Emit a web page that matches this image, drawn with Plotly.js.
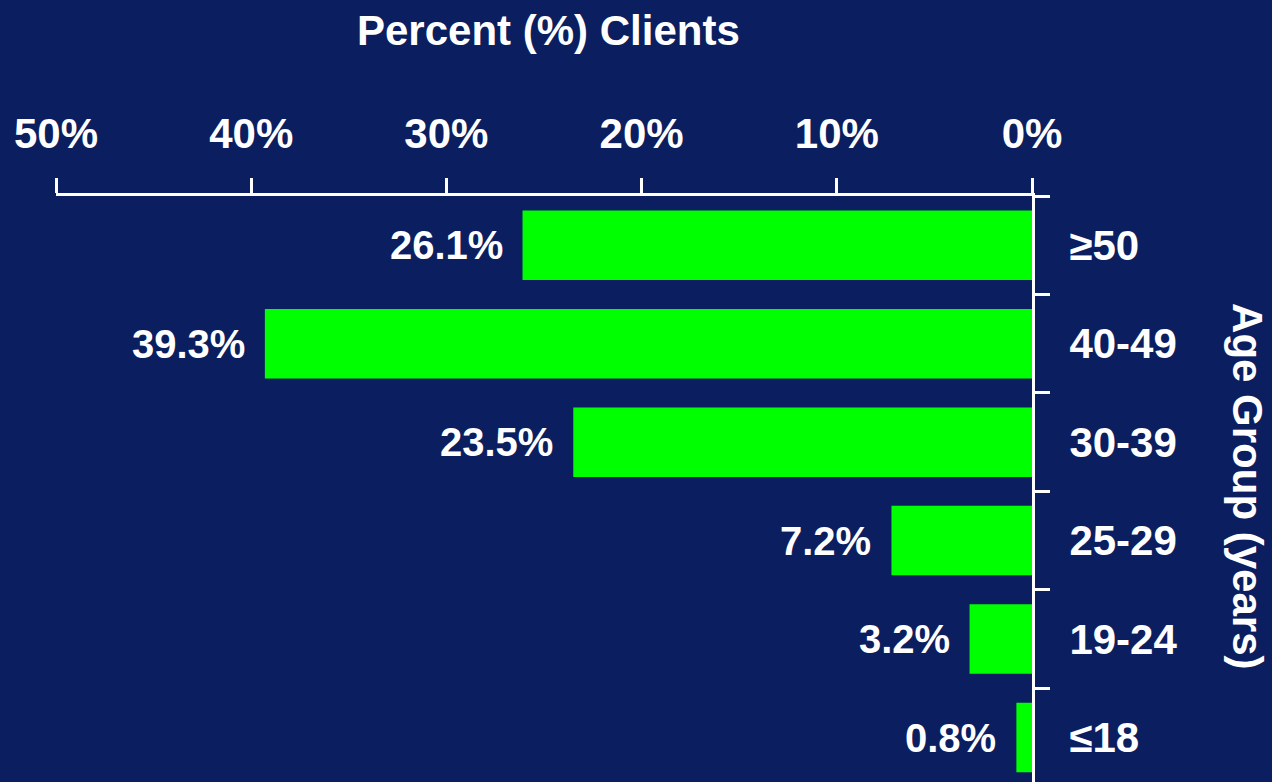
<!DOCTYPE html>
<html>
<head>
<meta charset="utf-8">
<script src="https://cdn.plot.ly/plotly-3.0.1.min.js"></script>
<style>
html,body{margin:0;padding:0;background:#0b1f60;}
#chart{width:1272px;height:782px;}
</style>
</head>
<body>
<div id="chart"></div>
<script>
const ageGroups = ['≥50', '40-49', '30-39', '25-29', '19-24', '≤18'];
const percentClients = [26.1, 39.3, 23.5, 7.2, 3.2, 0.8];
const percentLabels = ['26.1%', '39.3%', '23.5%', '7.2%', '3.2%', '0.8%'];
const xTickVals = [0, 10, 20, 30, 40, 50];
const xTickText = ['0%', '10%', '20%', '30%', '40%', '50%'];

const BG = '#0b1f60';
const WHITE = '#ffffff';
const FONT = 'Liberation Sans, Arial, Helvetica, sans-serif';

const trace = {
  type: 'bar',
  orientation: 'h',
  x: percentClients,
  y: ageGroups,
  width: 0.706,
  marker: {color: '#00ff00', line: {width: 0}},
  hoverinfo: 'none'
};

const annotations = percentClients.map((v, i) => ({
  x: v, y: ageGroups[i], xref: 'x', yref: 'y',
  text: percentLabels[i], showarrow: false,
  xanchor: 'right', yanchor: 'middle', xshift: -18,
  font: {family: FONT, size: 40, color: WHITE, weight: 'bold'}
}));

annotations.push({
  xref: 'paper', yref: 'paper', x: 0.5046, y: 1.283,
  text: 'Percent (%) Clients', showarrow: false,
  xanchor: 'center', yanchor: 'middle',
  font: {family: FONT, size: 42, color: WHITE, weight: 'bold'}
});
annotations.push({
  xref: 'paper', yref: 'paper', x: 1.2213, y: 0.505,
  text: 'Age Group (years)', showarrow: false, textangle: 90,
  xanchor: 'center', yanchor: 'middle',
  font: {family: FONT, size: 42, color: WHITE, weight: 'bold'}
});

const layout = {
  width: 1272, height: 782,
  paper_bgcolor: BG, plot_bgcolor: BG,
  margin: {l: 56, r: 240, t: 196, b: 0, pad: 0},
  showlegend: false,
  font: {family: FONT, color: WHITE, size: 40, weight: 'bold'},
  xaxis: {
    side: 'top', range: [50, 0], autorange: false,
    tickvals: xTickVals, ticktext: xTickText,
    ticks: 'outside', ticklen: 15, tickwidth: 3, tickcolor: WHITE,
    showline: true, linecolor: WHITE, linewidth: 3,
    showgrid: false, zeroline: false,
    ticklabelstandoff: 13,
    tickfont: {family: FONT, size: 42, color: WHITE, weight: 'bold'}
  },
  yaxis: {
    side: 'right', type: 'category', range: [5.452, -0.5], autorange: false,
    ticks: 'outside', tickson: 'boundaries', ticklen: 15, tickwidth: 3, tickcolor: WHITE,
    showline: true, linecolor: WHITE, linewidth: 3,
    showgrid: false, zeroline: false,
    ticklabelstandoff: 26,
    tickfont: {family: FONT, size: 42, color: WHITE, weight: 'bold'}
  },
  annotations: annotations
};

Plotly.newPlot('chart', [trace], layout, {displayModeBar: false, staticPlot: true});
</script>
</body>
</html>
